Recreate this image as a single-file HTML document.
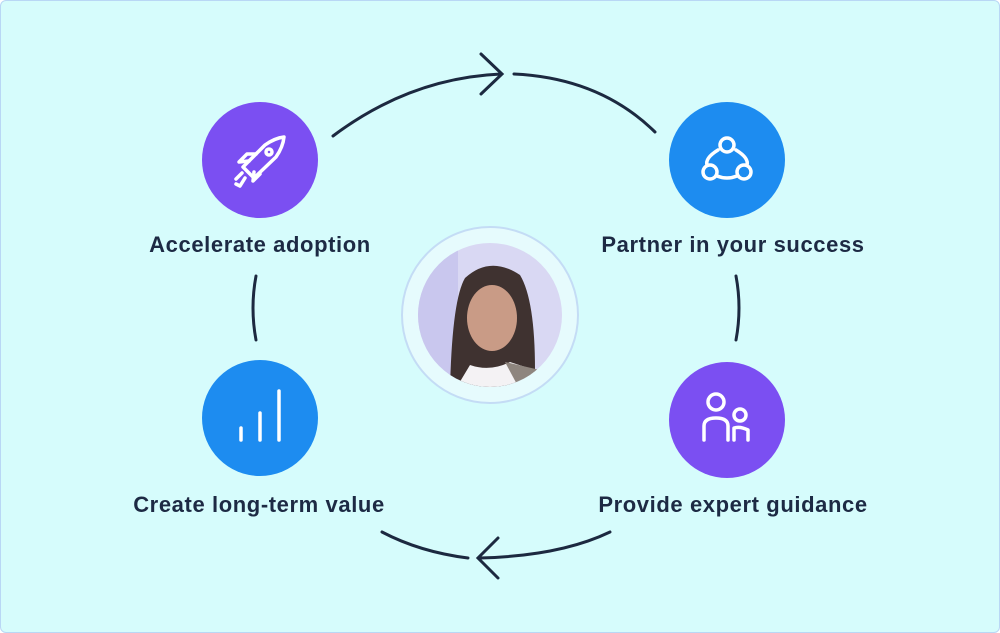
<!DOCTYPE html>
<html><head><style>
body{margin:0;width:1000px;height:633px;overflow:hidden;background:#fff;font-family:"Liberation Sans",sans-serif}
.f{position:absolute;left:0;top:0;width:998px;height:631px;border:1px solid #b9d7f5;border-radius:6px;background:#d6fcfc}
.lbl{position:absolute;font-weight:bold;font-size:22px;letter-spacing:0.6px;color:#1d2a44;white-space:nowrap;transform:translateX(-50%)}
</style></head><body>
<div class="f"></div>
<svg width="1000" height="633" style="position:absolute;left:0;top:0">
<defs>
<clipPath id="c"><circle cx="490" cy="315" r="72"/></clipPath>
</defs>
<g fill="none" stroke="#1c2940" stroke-width="3" stroke-linecap="round">
<path d="M333 136 Q410 78 501 74"/>
<path d="M481 54 L502 74 L481 94"/>
<path d="M514 74 Q600 78 655 132"/>
<path d="M256 276 Q250 308 256 340"/>
<path d="M736 276 Q742 308 736 340"/>
<path d="M382 532 Q420 552 468 558"/>
<path d="M498 538 L478 558 L498 578"/>
<path d="M480 558 Q560 556 610 532"/>
</g>
<circle cx="490" cy="315" r="88" fill="#e6fbfd" stroke="#c4dcf5" stroke-width="2"/>
<circle cx="490" cy="315" r="72" fill="#d9d8f3"/>
<g clip-path="url(#c)">
<rect x="418" y="243" width="40" height="144" fill="#c9c7ee"/>
<path d="M450 390 Q452 300 465 278 Q490 255 520 275 Q535 300 535 370 L545 390 Z" fill="#3f3230"/>
<ellipse cx="492" cy="318" rx="25" ry="33" fill="#c99b86"/>
<path d="M470 365 Q490 372 510 362 L550 375 L560 390 L455 390 Z" fill="#f4f2f4"/>
<path d="M505 362 L540 370 L560 390 L520 390 Z" fill="#8e857e"/>
</g>
<circle cx="260" cy="160" r="58" fill="#7b4ff2"/>
<circle cx="727" cy="160" r="58" fill="#1d8cf0"/>
<circle cx="260" cy="418" r="58" fill="#1d8cf0"/>
<circle cx="727" cy="420" r="58" fill="#7b4ff2"/>
<g fill="none" stroke="#fff" stroke-width="3.5" stroke-linecap="round" stroke-linejoin="round">
<path d="M243 167 L265 145 Q275 138 284 137 Q283 147 276 157 L254 178 Z"/>
<circle cx="269" cy="152" r="3"/>
<path d="M249 161 L239 162 L247 154 L256 154"/>
<path d="M254 172 L253 181 L260 174"/>
<path d="M242 173 L236 179 M245 178 L240 186 M236 184 L240 186"/>
<path d="M241 440 L241 428 M260 440 L260 413 M279 440 L279 391"/>
<circle cx="727" cy="145" r="7"/><circle cx="710" cy="172" r="7"/><circle cx="744" cy="172" r="7"/>
<path d="M718 150 Q705 158 707 165 M736 150 Q749 158 747 165 M717 176 Q727 180 737 176"/>
<circle cx="716" cy="402" r="8"/><circle cx="740" cy="415" r="6"/>
<path d="M704 440 L704 426 Q704 418 716 418 Q728 418 728 426 L728 440 M734 440 L734 428 Q740 426 748 430 L748 440"/>
</g>
</svg>
<div class="lbl" style="left:260px;top:232px">Accelerate adoption</div>
<div class="lbl" style="left:733px;top:232px">Partner in your success</div>
<div class="lbl" style="left:259px;top:492px">Create long-term value</div>
<div class="lbl" style="left:733px;top:492px">Provide expert guidance</div>
</body></html>
